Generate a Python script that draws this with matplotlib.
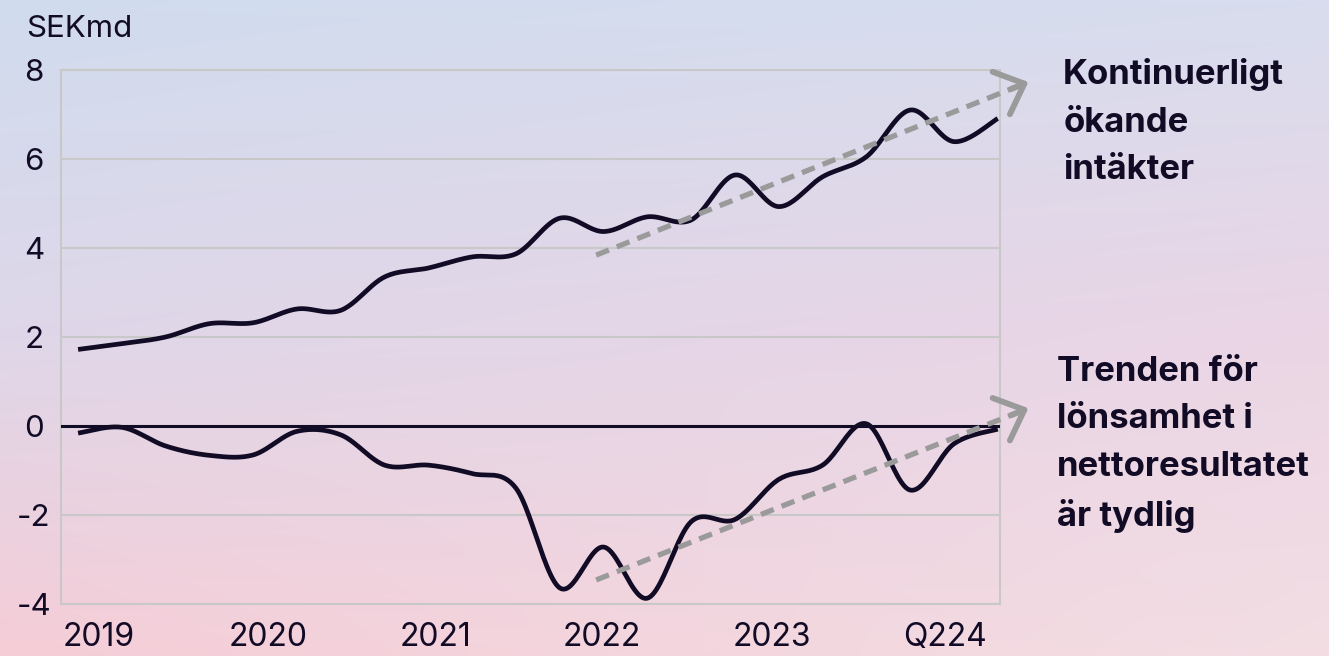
import numpy as np
import matplotlib
matplotlib.use("Agg")
import matplotlib.pyplot as plt

# Kvartal Q1 2019 - Q2 2024
quarters = np.arange(22)
intakter = [1.72, 1.85, 2.0, 2.3, 2.32, 2.63, 2.6, 3.35, 3.55, 3.8, 3.87,
            4.67, 4.37, 4.7, 4.63, 5.64, 4.93, 5.6, 6.05, 7.1, 6.39, 6.91]
nettoresultat = [-0.16, -0.03, -0.45, -0.66, -0.65, -0.12, -0.2, -0.88, -0.88, -1.07, -1.4,
                 -3.64, -2.72, -3.87, -2.15, -2.1, -1.2, -0.88, 0.05, -1.44, -0.4, -0.07]
year_labels = ['2019', '2020', '2021', '2022', '2023', 'Q224']
year_pos = [0.46, 4.34, 8.17, 11.96, 15.84, 19.79]
y_ticks = [-4, -2, 0, 2, 4, 6, 8]

trend_upper = [(11.83, 3.84), (21.7, 7.73)]
trend_lower = [(11.83, -3.46), (21.7, 0.40)]

text_upper = 'Kontinuerligt\nökande\nintäkter'
text_lower = 'Trenden för\nlönsamhet i\nnettoresultatet\när tydlig'

dark = '#120b26'
grid_c = '#c9c8c8'
arrow_c = '#9a9a9a'
font = 'Inter'


def smooth(x, y, n=24):
    # Catmull-Rom mellan punkterna
    pts = np.column_stack([x, y]).astype(float)
    p = np.vstack([pts[0], pts, pts[-1]])
    t = np.linspace(0, 1, n, endpoint=False)[:, None]
    out = []
    for i in range(len(pts) - 1):
        p0, p1, p2, p3 = p[i], p[i + 1], p[i + 2], p[i + 3]
        seg = 0.5 * (2 * p1 + (-p0 + p2) * t + (2 * p0 - 5 * p1 + 4 * p2 - p3) * t ** 2
                     + (-p0 + 3 * p1 - 3 * p2 + p3) * t ** 3)
        out.append(seg)
    out.append(pts[-1:])
    s = np.vstack(out)
    return s[:, 0], s[:, 1]


fig = plt.figure(figsize=(13.29, 6.56), dpi=100)

# bakgrund med gradient
bg = fig.add_axes([0, 0, 1, 1], zorder=-10)
bg.axis('off')
top = np.array([[208, 220, 238], [216, 221, 238]]) / 255
mid = np.array([[222, 215, 233], [234, 213, 229]]) / 255
bot = np.array([[245, 205, 215], [243, 222, 228]]) / 255
H, W = 100, 200
v = np.linspace(0, 1, H)[:, None, None]
u = np.linspace(0, 1, W)[None, :, None]
def row(c):
    return c[0] * (1 - u) + c[1] * u
img = np.where(v < 0.5, row(top) * (1 - 2 * v) + row(mid) * (2 * v),
               row(mid) * (2 - 2 * v) + row(bot) * (2 * v - 1))
bg.imshow(img, aspect='auto', extent=[0, 1, 0, 1], interpolation='bilinear')
bg.set_xlim(0, 1)
bg.set_ylim(0, 1)

ax = fig.add_axes([0.0459, 0.0793, 0.7065, 0.814])
ax.patch.set_alpha(0)

xs, ys = smooth(quarters, intakter)
ax.plot(xs, ys, color=dark, lw=3.4, solid_capstyle='butt', zorder=4)
xs, ys = smooth(quarters, nettoresultat)
ax.plot(xs, ys, color=dark, lw=3.4, solid_capstyle='butt', zorder=4)

ax.axhline(0, color=dark, lw=2.2, zorder=3)

ax.set_xlim(-0.39, 21.05)
ax.set_ylim(-4, 8)
ax.set_yticks(y_ticks)
ax.set_yticklabels([str(t) for t in y_ticks], fontfamily=font, fontsize=22.5, ha='center')
ax.set_xticks(year_pos)
ax.set_xticklabels(year_labels, fontfamily=font, fontsize=23)
ax.tick_params(axis='y', length=0, pad=19.5, colors=dark)
ax.tick_params(axis='x', length=0, pad=13, colors=dark)
ax.grid(axis='y', color=grid_c, lw=1.5, zorder=1)
for s in ax.spines.values():
    s.set_color(grid_c)
    s.set_linewidth(1.5)

ax.text(-0.037, 1.05, 'SEKmd', transform=ax.transAxes, fontfamily=font, fontsize=22.5,
        color=dark, ha='left', va='bottom')

# streckade trendpilar
for (x0, y0), (x1, y1) in [trend_upper, trend_lower]:
    ax.plot([x0, x1 - 0.15], [y0, y1 - 0.06], color=arrow_c, lw=3.8, ls=(0, (2.6, 1.6)),
            solid_capstyle='butt', dash_capstyle='butt', clip_on=False, zorder=5)
    ax.annotate('', xy=(x1, y1), xytext=(x1 - 0.4, y1 - 0.16), annotation_clip=False,
                arrowprops=dict(arrowstyle='->,head_length=0.6,head_width=0.55',
                                color=arrow_c, lw=4.2, mutation_scale=30,
                                shrinkA=0, shrinkB=0), zorder=5)

fig.text(0.80, 0.911, text_upper, fontfamily=font, fontweight='bold', fontsize=25,
         color=dark, ha='left', va='top', linespacing=1.62)
fig.text(0.795, 0.458, text_lower, fontfamily=font, fontweight='bold', fontsize=25,
         color=dark, ha='left', va='top', linespacing=1.62)

fig.savefig('out.png', dpi=100)
